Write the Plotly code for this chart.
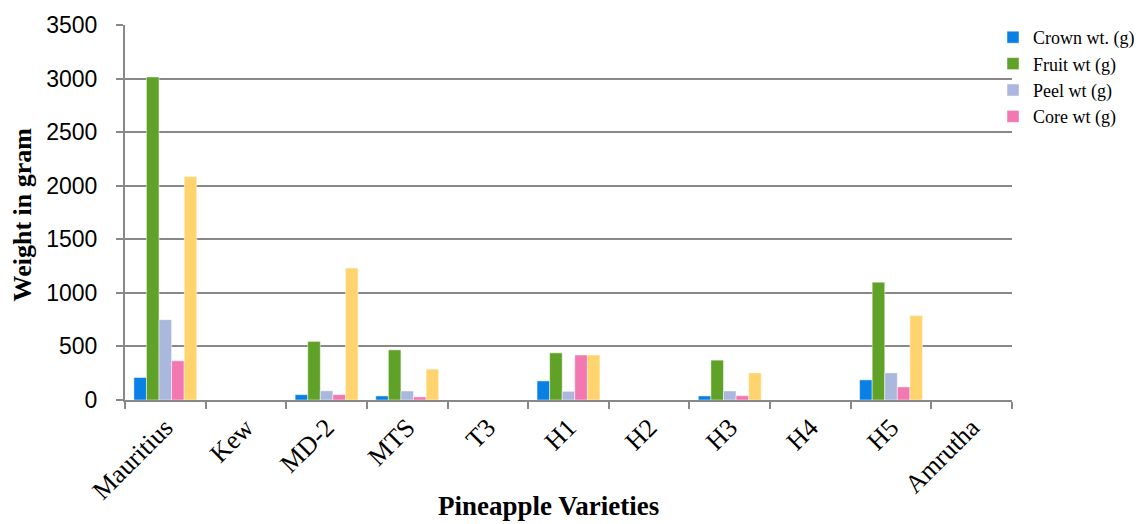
import plotly.graph_objects as go

categories = ["Mauritius", "Kew", "MD-2", "MTS", "T3", "H1", "H2", "H3", "H4", "H5", "Amrutha"]
crown = [210, 0, 50, 38, 0, 178, 0, 38, 0, 188, 0]
fruit = [3015, 0, 547, 468, 0, 440, 0, 372, 0, 1100, 0]
peel = [750, 0, 86, 84, 0, 81, 0, 84, 0, 253, 0]
core = [366, 0, 50, 29, 0, 420, 0, 40, 0, 122, 0]
pulp = [2085, 0, 1232, 288, 0, 420, 0, 253, 0, 788, 0]
yticks = [0, 500, 1000, 1500, 2000, 2500, 3000, 3500]

series = [
    ("Crown wt. (g)", crown, "#0a80e6", True),
    ("Fruit wt (g)", fruit, "#5fa227", True),
    ("Peel wt (g)", peel, "#aab8de", True),
    ("Core wt (g)", core, "#f377b0", True),
    ("Pulp wt (g)", pulp, "#ffd46f", False),
]

fig = go.Figure()
for name, vals, col, show in series:
    fig.add_trace(go.Bar(
        x=categories, y=vals, name=name, showlegend=show,
        marker=dict(color=col, line=dict(color="rgba(255,255,255,0.6)", width=0.8)),
    ))

# page body adds an 8px offset, so the figure is 8px smaller than the window
W, H = 1134, 516
axis_col = "#888888"
fig.update_layout(
    width=W, height=H,
    margin=dict(l=117, r=130, t=17, b=124, autoexpand=False),
    plot_bgcolor="white", paper_bgcolor="white",
    barmode="group", bargap=0.22, bargroupgap=0,
    legend=dict(xref="container", yref="container", x=985 / W, y=1 - 11 / H,
                xanchor="left", yanchor="top",
                font=dict(family="Liberation Serif", size=18, color="#000"),
                itemwidth=30, tracegroupgap=0, bgcolor="rgba(0,0,0,0)"),
    xaxis=dict(
        type="category", tickson="boundaries", ticks="outside", ticklen=7,
        tickcolor=axis_col, tickwidth=1.5, showline=True, linecolor=axis_col, linewidth=2,
        showgrid=False, tickangle=-45, automargin=False,
        tickfont=dict(family="Liberation Serif", size=26, color="#000"),
    ),
    yaxis=dict(
        range=[0, 3500], tickvals=yticks, ticks="outside", ticklen=7, automargin=False,
        ticklabelstandoff=14,
        tickcolor=axis_col, tickwidth=1.5, showline=True, linecolor=axis_col, linewidth=2,
        showgrid=True, gridcolor=axis_col, gridwidth=1.6, zeroline=False,
        tickfont=dict(family="Liberation Sans", size=23, color="#000"),
    ),
    annotations=[
        dict(text="<b>Pineapple Varieties</b>", xref="paper", yref="paper",
             x=0.477, y=0, xanchor="center", yanchor="middle", yshift=-106,
             showarrow=False, font=dict(family="Liberation Serif", size=27, color="#000")),
        dict(text="<b>Weight in gram</b>", xref="paper", yref="paper",
             x=0, y=0.495, xanchor="center", yanchor="middle", xshift=-103, textangle=-90,
             showarrow=False, font=dict(family="Liberation Serif", size=26, color="#000")),
    ],
)

fig.write_html("out.html")
